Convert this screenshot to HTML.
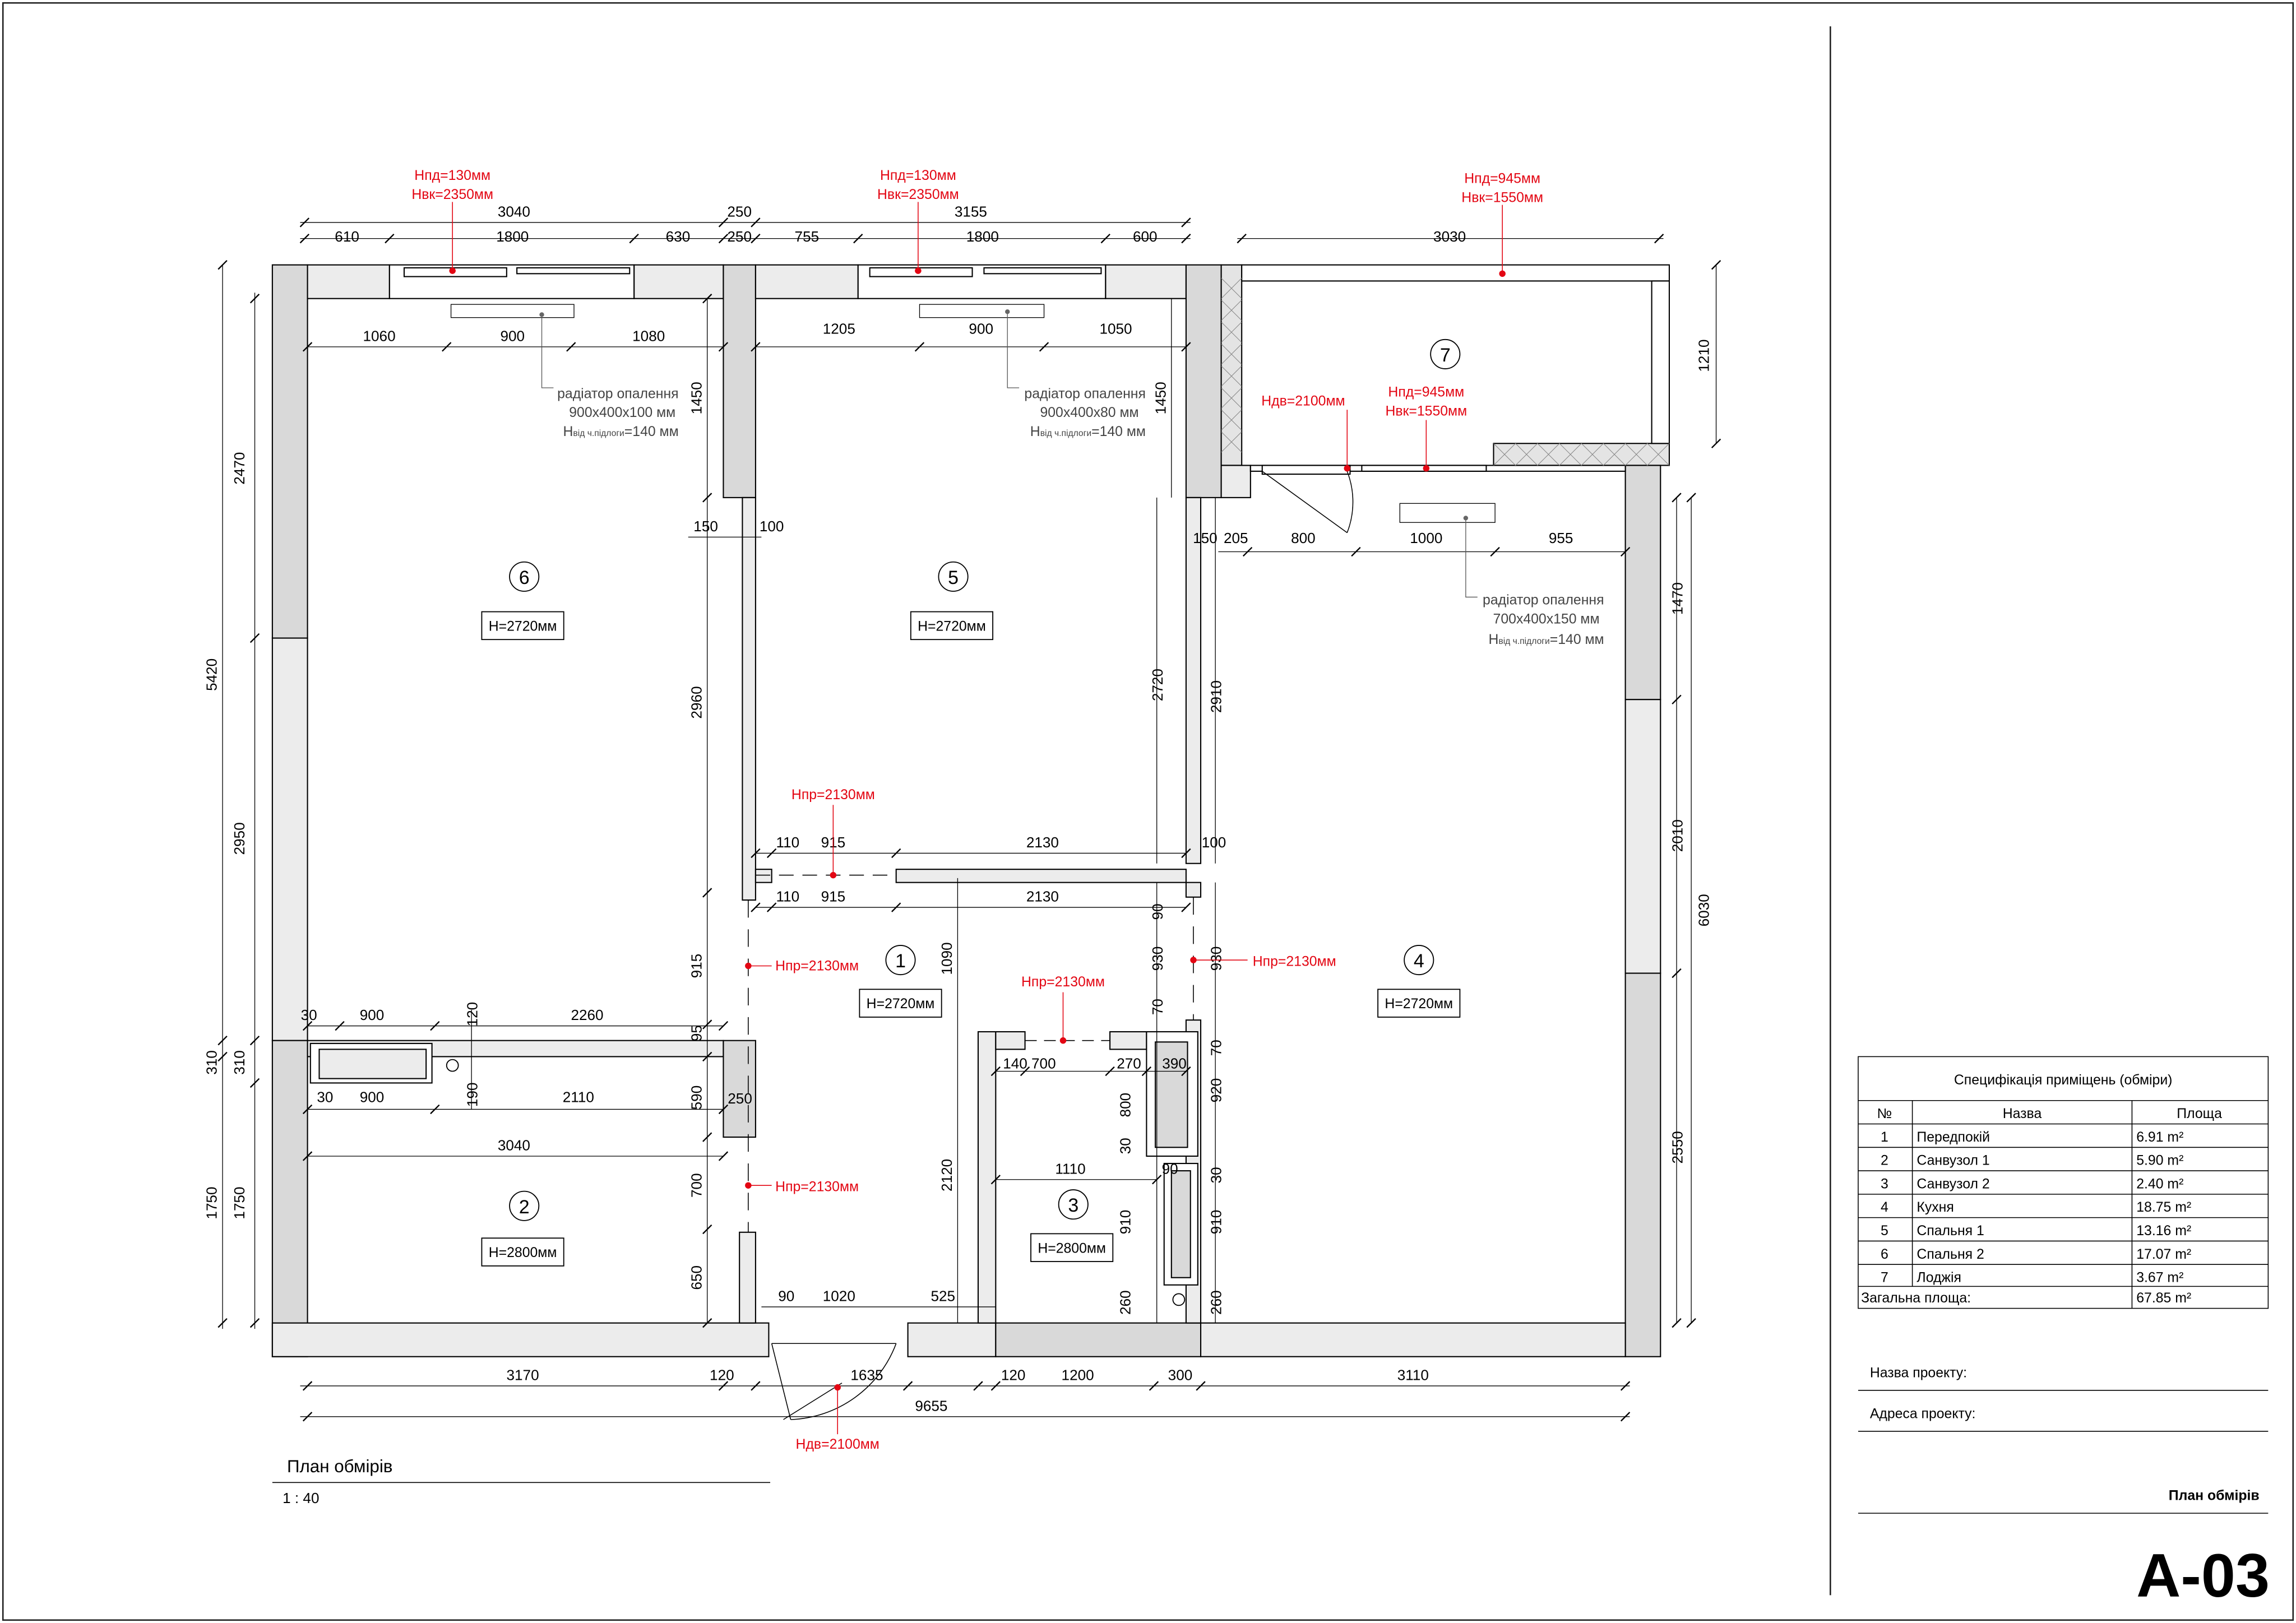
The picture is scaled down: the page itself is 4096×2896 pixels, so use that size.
<!DOCTYPE html>
<html><head><meta charset="utf-8"><style>
html,body{margin:0;padding:0;background:#fff;}
svg{display:block;}
text{font-family:"Liberation Sans","DejaVu Sans",sans-serif;}
</style></head><body>
<svg width="4096" height="2896" viewBox="0 0 1568 1109" preserveAspectRatio="none" xmlns="http://www.w3.org/2000/svg">
<rect x="0" y="0" width="1568" height="1109" fill="#fff"/>
<rect x="2" y="2" width="1564" height="1105" fill="none" stroke="#222" stroke-width="1"/>
<line x1="1250" y1="18" x2="1250" y2="1090" stroke="#222" stroke-width="1"/>

<g stroke="#000" stroke-width="0.8">
<!-- outer walls -->
<rect x="186" y="181" width="24" height="255" fill="#d9d9d9"/>
<rect x="186" y="436" width="24" height="275" fill="#ececec"/>
<rect x="186" y="711" width="24" height="216" fill="#d9d9d9"/>
<rect x="210" y="181" width="56" height="23" fill="#ececec"/>
<rect x="433" y="181" width="61" height="23" fill="#ececec"/>
<rect x="494" y="181" width="22" height="159" fill="#d9d9d9"/>
<rect x="516" y="181" width="70" height="23" fill="#ececec"/>
<rect x="755" y="181" width="55" height="23" fill="#ececec"/>
<rect x="810" y="181" width="24" height="159" fill="#d9d9d9"/>
<rect x="834" y="181" width="14" height="137" fill="#e4e4e4"/>
<rect x="1020" y="303" width="120" height="15" fill="#e4e4e4"/>
<rect x="834" y="318" width="20" height="22" fill="#ececec"/>
<rect x="1110" y="318" width="24" height="160" fill="#d9d9d9"/>
<rect x="1110" y="478" width="24" height="187" fill="#ececec"/>
<rect x="1110" y="665" width="24" height="262" fill="#d9d9d9"/>
<rect x="186" y="904" width="339" height="23" fill="#ececec"/>
<rect x="620" y="904" width="60" height="23" fill="#ececec"/>
<rect x="680" y="904" width="140" height="23" fill="#d9d9d9"/>
<rect x="820" y="904" width="290" height="23" fill="#ececec"/>
<!-- windows -->
<rect x="266" y="181" width="167" height="23" fill="#fff"/>
<rect x="276" y="183" width="70" height="6" fill="#fff"/><rect x="353" y="183" width="77" height="4" fill="#fff"/>
<rect x="586" y="181" width="169" height="23" fill="#fff"/>
<rect x="594" y="183" width="70" height="6" fill="#fff"/><rect x="672" y="183" width="80" height="4" fill="#fff"/>
<rect x="848" y="181" width="292" height="11" fill="#fff"/>
<rect x="1128" y="192" width="12" height="111" fill="#fff"/>
<rect x="854" y="318" width="256" height="4" fill="#fff"/>
<rect x="862" y="318" width="60" height="6" fill="#fff"/><rect x="930" y="318" width="85" height="4" fill="#fff"/>
<!-- partitions -->
<rect x="507" y="340" width="9" height="275" fill="#ececec"/>
<rect x="810" y="340" width="10" height="250" fill="#ececec"/>
<rect x="516" y="594" width="11" height="9" fill="#ececec"/>
<rect x="612" y="594" width="198" height="9" fill="#ececec"/>
<rect x="810" y="603" width="10" height="10" fill="#ececec"/>
<rect x="210" y="711" width="284" height="11" fill="#ececec"/>
<rect x="494" y="711" width="22" height="66" fill="#d9d9d9"/>
<rect x="505" y="842" width="11" height="62" fill="#ececec"/>
<rect x="668" y="705" width="12" height="199" fill="#ececec"/>
<rect x="680" y="705" width="20" height="12" fill="#ececec"/>
<rect x="758" y="705" width="25" height="12" fill="#ececec"/>
<rect x="810" y="697" width="10" height="207" fill="#ececec"/>
<rect x="783" y="705" width="35" height="85" fill="#fff"/>
<rect x="789" y="712" width="22" height="72" fill="#d9d9d9"/>
<rect x="795" y="795" width="23" height="83" fill="#fff"/>
<rect x="800" y="800" width="13" height="73" fill="#d9d9d9"/>
<rect x="212" y="713" width="83" height="27" fill="#fff"/>
<rect x="218" y="717" width="73" height="20" fill="#ececec"/>
<!-- radiators -->
<rect x="308" y="208" width="84" height="9" fill="#fff" stroke-width="0.5"/>
<rect x="628" y="208" width="85" height="9" fill="#fff" stroke-width="0.5"/>
<rect x="956" y="344" width="65" height="13" fill="#fff" stroke-width="0.5"/>
</g>
<!-- hatch loggia -->
<g stroke="#888" stroke-width="0.4">
<path d="M834 190 L848 204 M834 205 L848 219 M834 220 L848 234 M834 235 L848 249 M834 250 L848 264 M834 265 L848 279 M834 280 L848 294 M834 295 L848 309 M848 190 L834 204 M848 205 L834 219 M848 220 L834 234 M848 235 L834 249 M848 250 L834 264 M848 265 L834 279 M848 280 L834 294 M848 295 L834 309"/>
<path d="M1020 318 L1035 303 M1035 318 L1050 303 M1050 318 L1065 303 M1065 318 L1080 303 M1080 318 L1095 303 M1095 318 L1110 303 M1110 318 L1125 303 M1125 318 L1140 303 M1020 303 L1035 318 M1035 303 L1050 318 M1050 303 L1065 318 M1065 303 L1080 318 M1080 303 L1095 318 M1095 303 L1110 318 M1110 303 L1125 318 M1125 303 L1140 318"/>
</g>
<!-- doors -->
<g stroke="#000" stroke-width="0.6" fill="none">
<path d="M862 322 L920 364 M920 322 A58 58 0 0 1 920 364"/>
<path d="M527 918 L540 970 M527 918 L612 918 M540 970 A80 80 0 0 0 612 918"/>
<line x1="535" y1="970" x2="575" y2="945"/>
<line x1="516" y1="598" x2="612" y2="598" stroke-dasharray="10,6"/>
<line x1="511" y1="615" x2="511" y2="842" stroke-dasharray="12,8"/>
<line x1="815" y1="613" x2="815" y2="697" stroke-dasharray="12,8"/>
<line x1="700" y1="711" x2="758" y2="711" stroke-dasharray="8,5"/>
</g>
<circle cx="309" cy="728" r="4" fill="#fff" stroke="#000" stroke-width="0.7"/>
<circle cx="805" cy="888" r="4" fill="#fff" stroke="#000" stroke-width="0.7"/>

<!-- dimension lines -->
<g stroke="#000" stroke-width="0.5">
<line x1="205" y1="152" x2="813" y2="152"/><line x1="205" y1="163" x2="813" y2="163"/>
<line x1="845" y1="163" x2="1136" y2="163"/>
<line x1="210" y1="237" x2="494" y2="237"/><line x1="516" y1="237" x2="810" y2="237"/>
<line x1="152" y1="181" x2="152" y2="908"/><line x1="174" y1="200" x2="174" y2="908"/>
<line x1="1172" y1="181" x2="1172" y2="303"/><line x1="1155" y1="340" x2="1155" y2="904"/><line x1="1145" y1="340" x2="1145" y2="904"/>
<line x1="205" y1="947" x2="1113" y2="947"/><line x1="205" y1="968" x2="1113" y2="968"/>
<line x1="832" y1="377" x2="1110" y2="377"/><line x1="470" y1="367" x2="520" y2="367"/>
<line x1="483" y1="204" x2="483" y2="904"/><line x1="800" y1="204" x2="800" y2="340"/>
<line x1="790" y1="340" x2="790" y2="590"/><line x1="830" y1="340" x2="830" y2="590"/>
<line x1="516" y1="583" x2="810" y2="583"/><line x1="516" y1="620" x2="810" y2="620"/>
<line x1="210" y1="701" x2="494" y2="701"/><line x1="210" y1="758" x2="494" y2="758"/>
<line x1="210" y1="790" x2="494" y2="790"/>
<line x1="790" y1="603" x2="790" y2="904"/><line x1="830" y1="603" x2="830" y2="904"/>
<line x1="680" y1="732" x2="810" y2="732"/><line x1="680" y1="806" x2="790" y2="806"/>
<line x1="654" y1="600" x2="654" y2="904"/><line x1="680" y1="893" x2="520" y2="893"/>
<line x1="322" y1="690" x2="322" y2="758"/>
</g>
<g stroke="#000" stroke-width="0.9">
<path d="M205 155 l6 -6 M491 155 l6 -6 M513 155 l6 -6 M807 155 l6 -6 M205 166 l6 -6 M263 166 l6 -6 M430 166 l6 -6 M491 166 l6 -6 M513 166 l6 -6 M583 166 l6 -6 M752 166 l6 -6 M807 166 l6 -6 M845 166 l6 -6 M1130 166 l6 -6"/>
<path d="M207 240 l6 -6 M302 240 l6 -6 M387 240 l6 -6 M491 240 l6 -6 M513 240 l6 -6 M625 240 l6 -6 M710 240 l6 -6 M807 240 l6 -6"/>
<path d="M149 184 l6 -6 M149 714 l6 -6 M149 725 l6 -6 M149 907 l6 -6 M171 207 l6 -6 M171 439 l6 -6 M171 714 l6 -6 M171 743 l6 -6 M171 907 l6 -6"/>
<path d="M1169 184 l6 -6 M1169 306 l6 -6 M1152 343 l6 -6 M1152 907 l6 -6 M1142 343 l6 -6 M1142 481 l6 -6 M1142 668 l6 -6 M1142 907 l6 -6"/>
<path d="M207 950 l6 -6 M491 950 l6 -6 M513 950 l6 -6 M617 950 l6 -6 M665 950 l6 -6 M677 950 l6 -6 M785 950 l6 -6 M817 950 l6 -6 M1107 950 l6 -6 M207 971 l6 -6 M1107 971 l6 -6"/>
<path d="M849 380 l6 -6 M923 380 l6 -6 M1018 380 l6 -6 M1107 380 l6 -6 M480 207 l6 -6 M480 343 l6 -6 M480 613 l6 -6 M480 703 l6 -6 M480 725 l6 -6 M480 780 l6 -6 M480 843 l6 -6 M480 907 l6 -6"/>
<path d="M513 586 l6 -6 M524 586 l6 -6 M609 586 l6 -6 M807 586 l6 -6 M513 623 l6 -6 M524 623 l6 -6 M609 623 l6 -6 M807 623 l6 -6"/>
<path d="M207 704 l6 -6 M229 704 l6 -6 M294 704 l6 -6 M491 704 l6 -6 M207 761 l6 -6 M294 761 l6 -6 M491 761 l6 -6 M207 793 l6 -6 M491 793 l6 -6 M677 735 l6 -6 M697 735 l6 -6 M755 735 l6 -6 M780 735 l6 -6 M807 735 l6 -6 M677 809 l6 -6 M787 809 l6 -6"/>
</g>
<!-- leaders -->
<g stroke="#555" stroke-width="0.5" fill="none">
<path d="M370 215 L370 265 L378 265"/><path d="M688 213 L688 265 L696 265"/><path d="M1001 354 L1001 408 L1009 408"/>
</g>
<g fill="#666"><circle cx="370" cy="215" r="1.6"/><circle cx="688" cy="213" r="1.6"/><circle cx="1001" cy="354" r="1.6"/></g>

<!-- dimension text -->
<g font-size="10" fill="#000" text-anchor="middle">
<text x="351" y="148">3040</text><text x="505" y="148">250</text><text x="663" y="148">3155</text>
<text x="237" y="165">610</text><text x="350" y="165">1800</text><text x="463" y="165">630</text><text x="505" y="165">250</text><text x="551" y="165">755</text><text x="671" y="165">1800</text><text x="782" y="165">600</text>
<text x="990" y="165">3030</text>
<text x="259" y="233">1060</text><text x="350" y="233">900</text><text x="443" y="233">1080</text>
<text x="573" y="228">1205</text><text x="670" y="228">900</text><text x="762" y="228">1050</text>
<text x="482" y="363">150</text><text x="527" y="363">100</text>
<text x="823" y="371">150</text><text x="844" y="371">205</text><text x="890" y="371">800</text><text x="974" y="371">1000</text><text x="1066" y="371">955</text>
<text x="538" y="579">110</text><text x="569" y="579">915</text><text x="712" y="579">2130</text><text x="829" y="579">100</text>
<text x="538" y="616">110</text><text x="569" y="616">915</text><text x="712" y="616">2130</text>
<text x="211" y="697">30</text><text x="254" y="697">900</text><text x="401" y="697">2260</text>
<text x="222" y="753">30</text><text x="254" y="753">900</text><text x="395" y="753">2110</text>
<text x="351" y="786">3040</text>
<text x="703" y="730">140 700</text><text x="771" y="730">270</text><text x="802" y="730">390</text>
<text x="731" y="802">1110</text><text x="799" y="802">90</text>
<text x="537" y="889">90</text><text x="573" y="889">1020</text><text x="644" y="889">525</text>
<text x="357" y="943">3170</text><text x="493" y="943">120</text><text x="592" y="943">1635</text><text x="692" y="943">120</text><text x="736" y="943">1200</text><text x="806" y="943">300</text><text x="965" y="943">3110</text>
<text x="636" y="964">9655</text>
<g transform="rotate(-90)">
<text x="-461" y="148">5420</text><text x="-320" y="167">2470</text><text x="-573" y="167">2950</text><text x="-726" y="148">310</text><text x="-726" y="167">310</text><text x="-822" y="148">1750</text><text x="-822" y="167">1750</text>
<text x="-243" y="1167">1210</text><text x="-622" y="1167">6030</text><text x="-409" y="1149">1470</text><text x="-571" y="1149">2010</text><text x="-784" y="1149">2550</text>
<text x="-272" y="479">1450</text><text x="-480" y="479">2960</text><text x="-660" y="479">915</text><text x="-706" y="479">95</text><text x="-750" y="479">590</text><text x="-810" y="479">700</text><text x="-873" y="479">650</text>
<text x="-272" y="796">1450</text><text x="-468" y="794">2720</text><text x="-476" y="834">2910</text>
<text x="-623" y="794">90</text><text x="-655" y="794">930</text><text x="-655" y="834">930</text><text x="-688" y="794">70</text><text x="-716" y="834">70</text>
<text x="-755" y="772">800</text><text x="-745" y="834">920</text><text x="-783" y="772">30</text><text x="-803" y="834">30</text><text x="-835" y="772">910</text><text x="-835" y="834">910</text><text x="-890" y="772">260</text><text x="-890" y="834">260</text>
<text x="-693" y="326">120</text><text x="-748" y="326">190</text><text x="-655" y="650">1090</text><text x="-803" y="650">2120</text>
</g>
</g>
<text x="497" y="754" font-size="10">250</text>

<!-- radiator labels -->
<g font-size="9.5" fill="#444" text-anchor="middle">
<text x="422" y="272">радіатор опалення</text><text x="425" y="285">900x400x100 мм</text><text x="424" y="298">H<tspan font-size="6">від ч.підлоги</tspan>=140 мм</text>
<text x="741" y="272">радіатор опалення</text><text x="744" y="285">900x400x80 мм</text><text x="743" y="298">H<tspan font-size="6">від ч.підлоги</tspan>=140 мм</text>
<text x="1054" y="413">радіатор опалення</text><text x="1056" y="426">700x400x150 мм</text><text x="1056" y="440">H<tspan font-size="6">від ч.підлоги</tspan>=140 мм</text>
</g>

<!-- red labels -->
<g fill="#e30613" font-size="9.5" text-anchor="middle">
<text x="309" y="123">Нпд=130мм</text><text x="309" y="136">Нвк=2350мм</text>
<text x="627" y="123">Нпд=130мм</text><text x="627" y="136">Нвк=2350мм</text>
<text x="1026" y="125">Нпд=945мм</text><text x="1026" y="138">Нвк=1550мм</text>
<text x="974" y="271">Нпд=945мм</text><text x="974" y="284">Нвк=1550мм</text>
<text x="890" y="277">Ндв=2100мм</text>
<text x="569" y="546">Нпр=2130мм</text>
<text x="558" y="663">Нпр=2130мм</text>
<text x="558" y="814">Нпр=2130мм</text>
<text x="884" y="660">Нпр=2130мм</text>
<text x="726" y="674">Нпр=2130мм</text>
<text x="572" y="990">Ндв=2100мм</text>
</g>
<g stroke="#e30613" stroke-width="0.6">
<line x1="309" y1="138" x2="309" y2="185"/><line x1="627" y1="138" x2="627" y2="185"/><line x1="1026" y1="140" x2="1026" y2="187"/>
<line x1="974" y1="287" x2="974" y2="320"/><line x1="920" y1="280" x2="920" y2="320"/>
<line x1="569" y1="550" x2="569" y2="598"/><line x1="511" y1="660" x2="527" y2="660"/><line x1="511" y1="810" x2="527" y2="810"/><line x1="815" y1="656" x2="852" y2="656"/>
<line x1="726" y1="678" x2="726" y2="711"/><line x1="572" y1="948" x2="572" y2="980"/>
</g>
<g fill="#e30613">
<circle cx="309" cy="185" r="2.2"/><circle cx="627" cy="185" r="2.2"/><circle cx="1026" cy="187" r="2.2"/><circle cx="974" cy="320" r="2.2"/><circle cx="920" cy="320" r="2.2"/>
<circle cx="569" cy="598" r="2.2"/><circle cx="511" cy="660" r="2.2"/><circle cx="511" cy="810" r="2.2"/><circle cx="815" cy="656" r="2.2"/><circle cx="726" cy="711" r="2.2"/><circle cx="572" cy="948" r="2.2"/>
</g>

<!-- room tags -->
<g font-size="13" text-anchor="middle" fill="#000">
<circle cx="358" cy="394" r="10" fill="#fff" stroke="#000" stroke-width="0.7"/><text x="358" y="399">6</text>
<circle cx="651" cy="394" r="10" fill="#fff" stroke="#000" stroke-width="0.7"/><text x="651" y="399">5</text>
<circle cx="987" cy="242" r="10" fill="#fff" stroke="#000" stroke-width="0.7"/><text x="987" y="247">7</text>
<circle cx="615" cy="656" r="10" fill="#fff" stroke="#000" stroke-width="0.7"/><text x="615" y="661">1</text>
<circle cx="969" cy="656" r="10" fill="#fff" stroke="#000" stroke-width="0.7"/><text x="969" y="661">4</text>
<circle cx="358" cy="824" r="10" fill="#fff" stroke="#000" stroke-width="0.7"/><text x="358" y="829">2</text>
<circle cx="733" cy="823" r="10" fill="#fff" stroke="#000" stroke-width="0.7"/><text x="733" y="828">3</text>
</g>
<g font-size="9.5" text-anchor="middle" fill="#000">
<rect x="329" y="418" width="56" height="19" fill="#fff" stroke="#000" stroke-width="0.7"/><text x="357" y="431">H=2720мм</text>
<rect x="622" y="418" width="56" height="19" fill="#fff" stroke="#000" stroke-width="0.7"/><text x="650" y="431">H=2720мм</text>
<rect x="587" y="676" width="56" height="19" fill="#fff" stroke="#000" stroke-width="0.7"/><text x="615" y="689">H=2720мм</text>
<rect x="941" y="676" width="56" height="19" fill="#fff" stroke="#000" stroke-width="0.7"/><text x="969" y="689">H=2720мм</text>
<rect x="329" y="846" width="56" height="19" fill="#fff" stroke="#000" stroke-width="0.7"/><text x="357" y="859">H=2800мм</text>
<rect x="704" y="843" width="56" height="19" fill="#fff" stroke="#000" stroke-width="0.7"/><text x="732" y="856">H=2800мм</text>
</g>

<!-- title -->
<text x="196" y="1006" font-size="12">План обмірів</text>
<line x1="186" y1="1013" x2="526" y2="1013" stroke="#000" stroke-width="0.6"/>
<text x="193" y="1027" font-size="10">1 : 40</text>

<!-- spec table -->
<g stroke="#000" stroke-width="0.6" fill="none">
<rect x="1269" y="722" width="280" height="172"/>
<line x1="1269" y1="752" x2="1549" y2="752"/>
<line x1="1269" y1="768" x2="1549" y2="768"/><line x1="1269" y1="784" x2="1549" y2="784"/><line x1="1269" y1="800" x2="1549" y2="800"/><line x1="1269" y1="816" x2="1549" y2="816"/><line x1="1269" y1="832" x2="1549" y2="832"/><line x1="1269" y1="848" x2="1549" y2="848"/><line x1="1269" y1="864" x2="1549" y2="864"/><line x1="1269" y1="879" x2="1549" y2="879"/>
<line x1="1306" y1="752" x2="1306" y2="879"/><line x1="1456" y1="752" x2="1456" y2="894"/>
</g>
<g font-size="9.5" fill="#000">
<text x="1409" y="741" text-anchor="middle">Специфікація приміщень (обміри)</text>
<text x="1287" y="764" text-anchor="middle">№</text><text x="1381" y="764" text-anchor="middle">Назва</text><text x="1502" y="764" text-anchor="middle">Площа</text>
<g text-anchor="middle"><text x="1287" y="780">1</text><text x="1287" y="796">2</text><text x="1287" y="812">3</text><text x="1287" y="828">4</text><text x="1287" y="844">5</text><text x="1287" y="860">6</text><text x="1287" y="876">7</text></g>
<text x="1309" y="780">Передпокій</text><text x="1309" y="796">Санвузол 1</text><text x="1309" y="812">Санвузол 2</text><text x="1309" y="828">Кухня</text><text x="1309" y="844">Спальня 1</text><text x="1309" y="860">Спальня 2</text><text x="1309" y="876">Лоджія</text>
<text x="1459" y="780">6.91 m²</text><text x="1459" y="796">5.90 m²</text><text x="1459" y="812">2.40 m²</text><text x="1459" y="828">18.75 m²</text><text x="1459" y="844">13.16 m²</text><text x="1459" y="860">17.07 m²</text><text x="1459" y="876">3.67 m²</text>
<text x="1271" y="890">Загальна площа:</text><text x="1459" y="890">67.85 m²</text>
<text x="1277" y="941">Назва проекту:</text><text x="1277" y="969">Адреса проекту:</text>
<text x="1543" y="1025" text-anchor="end" font-weight="bold">План обмірів</text>
</g>
<g stroke="#000" stroke-width="0.6"><line x1="1269" y1="950" x2="1549" y2="950"/><line x1="1269" y1="978" x2="1549" y2="978"/><line x1="1269" y1="1034" x2="1549" y2="1034"/></g>
<text x="1550" y="1091" font-size="42" font-weight="bold" text-anchor="end">A-03</text>
</svg>
</body></html>
